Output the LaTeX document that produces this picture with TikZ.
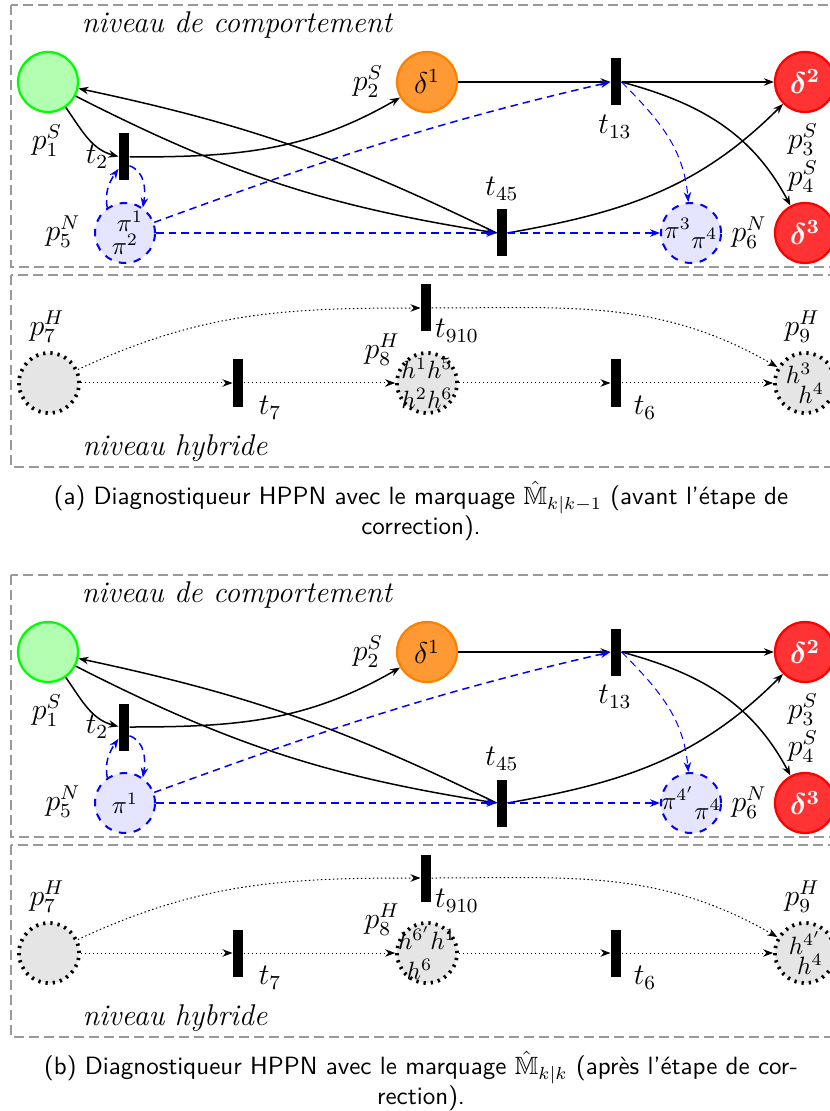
\documentclass[tikz,border=0pt]{standalone}
\usepackage{fontspec}
\usepackage{amsmath}
\usepackage{amssymb}
\usepackage{xcolor}
\usepackage{tikz}
\usetikzlibrary{arrows.meta,positioning,calc}

\begin{document}
\begin{tikzpicture}[
  x=0.4pt, y=-0.4pt,
  place/.style={circle, minimum size=24pt, inner sep=0pt, line width=0.9pt},
  sym/.style={place, font=\large},
  net/.style={place, draw=blue, dashed, thick, fill=blue!10},
  hyb/.style={place, draw=black, dotted, line width=1.5pt, fill=gray!20},
  tok/.style={align=center, inner sep=0pt},
  trans/.style={rectangle, fill=black, minimum width=4pt, minimum height=18.8pt, inner sep=0pt},
  lbl/.style={inner sep=0pt, font=\large},
  level/.style={draw=gray!80, dash pattern=on 4pt off 2pt, semithick},
  arr/.style={-{Stealth[length=4pt]}, semithick},
  narr/.style={arr, blue, dash pattern=on 3pt off 2pt},
  harr/.style={arr, densely dotted, thin},
  capt/.style={align=center, font=\sffamily}
]
\path[use as bounding box] (0,0) rectangle (830,1111);
\clip (0,0) rectangle (830,1111);

\foreach \dy/\mfive/\msix/\meight/\mnine/\captxt in {
  0/{\hspace*{4pt}$\pi^1$\\[-3pt]$\pi^2$}/{$\pi^3$\raisebox{-4pt}{$\pi^4$}}/{$h^1h^5$\\$h^2h^6$}/{$h^3$\hspace*{5pt}\\[-4pt]\hspace*{5pt}$h^4$}/{(a) Diagnostiqueur HPPN avec le marquage $\hat{\mathbb{M}}_{k|k-1}$ (avant l'étape de\\correction).},
  570/{$\pi^1$}/{$\pi^{4'}$\raisebox{-4pt}{$\pi^4$}}/{$h^{6'}h^1$\\$h^6$\hspace*{6pt}}/{$h^{4'}$\\[-4pt]\hspace*{4pt}$h^4$}/{(b) Diagnostiqueur HPPN avec le marquage $\hat{\mathbb{M}}_{k|k}$ (après l'étape de cor-\\rection).}}
{
\begin{scope}[shift={(0,\dy)}]
% levels
\draw[level] (11,5) rectangle (900,267);
\draw[level] (11,275) rectangle (900,467);
\node[lbl, font=\large\itshape] (beh) at (237,25) {niveau de comportement};
\node[lbl, font=\large\itshape] (hyt) at (175,448) {niveau hybride};

% places
\node[sym, draw=green, fill=green!30] (p1) at (48,82) {};
\node[sym, draw=orange, fill=orange!80] (p2) at (427,82) {$\delta^1$};
\node[sym, draw=red, fill=red!80, text=white] (p3) at (805,82) {$\boldsymbol{\delta^2}$};
\node[sym, draw=red, fill=red!80, text=white] (p4) at (805,233) {$\boldsymbol{\delta^3}$};
\node[net] (p5) at (125,233) {};
\node[net] (p6) at (691,233) {};
\node[hyb] (p7) at (49,383) {};
\node[hyb] (p8) at (427,383) {};
\node[hyb] (p9) at (805,383) {};
\node[tok] (m5) at (p5) {\mfive};
\node[tok] (m6) at (p6) {\msix};
\node[tok] (m8) at (p8) {\meight};
\node[tok] (m9) at (p9) {\mnine};

% transitions
\node[trans] (t2) at (124,157) {};
\node[trans] (t13) at (616,82) {};
\node[trans] (t45) at (502,233) {};
\node[trans] (t7) at (238,383) {};
\node[trans] (t910) at (426,308) {};
\node[trans] (t6) at (616,383) {};

% labels
\node[lbl] (l1) at (47,141) {$p_1^S$};
\node[lbl] (l2) at (368,82) {$p_2^S$};
\node[lbl] (l3) at (803,140) {$p_3^S$};
\node[lbl] (l4) at (803,177) {$p_4^S$};
\node[lbl] (l5) at (63,232) {$p_5^N$};
\node[lbl] (l6) at (749,233) {$p_6^N$};
\node[lbl] (l7) at (47,327) {$p_7^H$};
\node[lbl] (l8) at (382,350) {$p_8^H$};
\node[lbl] (l9) at (802,327) {$p_9^H$};
\node[lbl] (lt2) at (97,157) {$t_2$};
\node[lbl] (lt13) at (615,127) {$t_{13}$};
\node[lbl] (lt45) at (502,189) {$t_{45}$};
\node[lbl] (lt7) at (270,408) {$t_7$};
\node[lbl] (lt910) at (457,331) {$t_{910}$};
\node[lbl] (lt6) at (645,408) {$t_6$};

% arcs
\draw[arr] (p1) to[out=-55,in=165] (t2.175);
\draw[arr] (t2.east) to[out=0,in=210] (p2);
\draw[arr] (t45.west) to[out=154,in=-12] (p1);
\draw[arr] (p1) to[out=-27,in=171] (t45.west);
\draw[arr] (t45.east) to[out=10,in=225] (p3);
\draw[arr] (p2) -- (t13.west);
\draw[arr] (t13.east) -- (p3);
\draw[arr] (t13.east) to[out=-15,in=118] (p4);
\draw[narr] (p5.125) to[out=100,in=235] (t2.245);
\draw[narr] (t2.-58) to[out=-20,in=80] (p5.55);
\draw[narr] (p5) to[out=20,in=193] (t13.west);
\draw[narr] (p5) -- (t45.west);
\draw[narr] (t45.east) -- (p6);
\draw[narr, thin] (t13.east) to[out=-45,in=95] (p6);
\draw[harr] (p7) -- (t7);
\draw[harr] (t7) -- (p8);
\draw[harr] (p8) -- (t6);
\draw[harr] (t6) -- (p9);
\draw[harr] (p7) to[out=25,in=180] (t910);
\draw[harr] (t910) to[out=0,in=150] (p9);

\node[capt] (cap) at (421,511) {\captxt};
\end{scope}
}
\end{tikzpicture}
\end{document}
